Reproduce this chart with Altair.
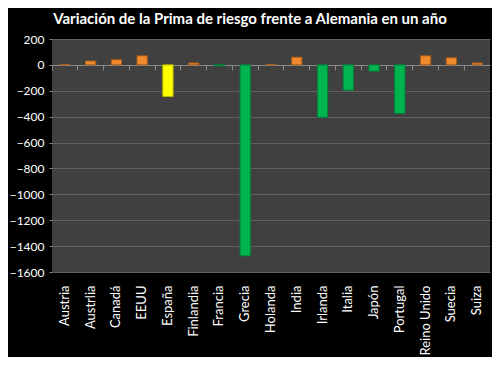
import altair as alt
import pandas as pd

paises = ["Austria", "Austrlia", "Canadá", "EEUU", "España", "Finlandia", "Francia",
          "Grecia", "Holanda", "India", "Irlanda", "Italia", "Japón", "Portugal",
          "Reino Unido", "Suecia", "Suiza"]
variacion = [3, 30, 40, 70, -245, 15, -8, -1475, 3, 60, -405, -195, -48, -375, 70, 55, 15]

df = pd.DataFrame({"pais": paises, "var": variacion})
df["grupo"] = ["esp" if p == "España" else ("pos" if v >= 0 else "neg")
               for p, v in zip(paises, variacion)]

FONT = "Lato"

bars = alt.Chart(df).mark_bar(width=alt.RelativeBandSize(0.4), strokeWidth=1).encode(
    x=alt.X("pais:N", sort=paises, title=None,
            scale=alt.Scale(paddingInner=0, paddingOuter=0),
            axis=alt.Axis(orient="bottom", offset=-207, domain=True, domainColor="#8a8a8a",
                          ticks=True, tickColor="#8a8a8a", tickSize=5, bandPosition=0,
                          labelAngle=-90, labelAlign="right", labelBaseline="middle",
                          labelPadding=215, labelColor="white", labelFont=FONT,
                          labelFontSize=13, grid=False)),
    y=alt.Y("var:Q", title=None,
            scale=alt.Scale(domain=[-1600, 200], nice=False),
            axis=alt.Axis(values=list(range(-1600, 201, 200)), format="d",
                          labelColor="white", labelFont=FONT, labelFontSize=12,
                          labelPadding=5, tickSize=3, tickColor="#8a8a8a",
                          domain=False, grid=True, gridColor="#606060", gridWidth=1)),
    color=alt.Color("grupo:N", legend=None,
                    scale=alt.Scale(domain=["pos", "neg", "esp"],
                                    range=["#F08A2C", "#00B450", "#FFFF00"])),
    stroke=alt.Stroke("grupo:N", legend=None,
                      scale=alt.Scale(domain=["pos", "neg", "esp"],
                                      range=["#A85A18", "#00803A", "#B8B800"])),
)

chart = bars.properties(
    width=438, height=233,
    background="black",
    padding={"left": 44, "top": 31, "right": 2, "bottom": 85},
    autosize=alt.AutoSizeParams(type="none"),
    title=alt.Title("Variación de la Prima de riesgo frente a Alemania en un año",
                    color="white", font=FONT, fontSize=15, fontWeight="bold",
                    anchor="middle", dx=-21, offset=6),
).configure_view(fill="#404040", stroke=None)

chart.save("out.html", embed_options={"renderer": "svg", "actions": False})
